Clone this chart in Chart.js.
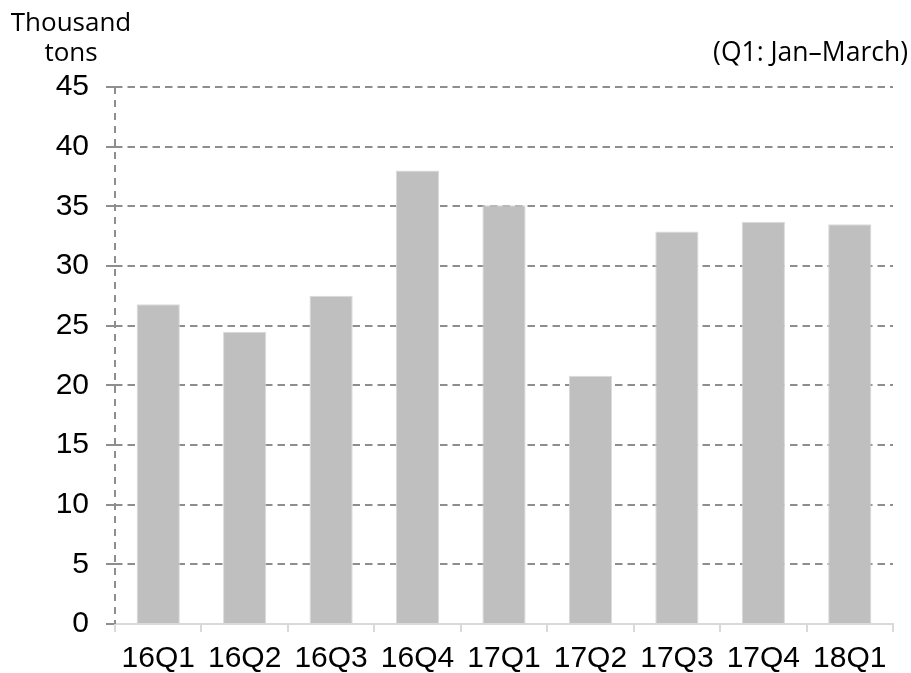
<!DOCTYPE html>
<html>
<head>
<meta charset="utf-8">
<script src="https://cdn.jsdelivr.net/npm/chart.js@4/dist/chart.umd.min.js"></script>
<style>
  html, body { margin: 0; padding: 0; background: #fff; }
  #wrap { width: 911px; height: 673px; }
</style>
</head>
<body>
<div id="wrap"><canvas id="chart" width="911" height="673"></canvas></div>
<script>
// --- données ---
const quarters = ['16Q1', '16Q2', '16Q3', '16Q4', '17Q1', '17Q2', '17Q3', '17Q4', '18Q1'];
const volumes = [26.8, 24.5, 27.5, 38.0, 35.1, 20.8, 32.9, 33.7, 33.5];
const unitLines = ['Thousand', 'tons'];
const noteText = '(Q1: Jan\u2013March)';

const gridGray = '#8e8e8e';
const axisGray = '#d9d9d9';
const dashPattern = [7.5, 5];
const tickFont = { family: '"Liberation Sans", Arial, sans-serif', size: 30 };

// axe vertical en pointillés + textes d'en-tête
const headerText = {
  id: 'headerText',
  beforeDatasetsDraw(chart) {
    const ctx = chart.ctx;
    const area = chart.chartArea;
    const x = Math.round(area.left);
    ctx.save();
    ctx.strokeStyle = gridGray;
    ctx.lineWidth = 2;
    ctx.setLineDash([7, 6]);
    ctx.beginPath();
    ctx.moveTo(x, area.top);
    ctx.lineTo(x, area.bottom);
    ctx.stroke();
    ctx.restore();
  },
  afterDraw(chart) {
    const ctx = chart.ctx;
    ctx.save();
    ctx.fillStyle = '#000';
    ctx.font = '26px "Open Sans"';
    ctx.textBaseline = 'alphabetic';
    ctx.textAlign = 'center';
    ctx.fillText(unitLines[0], 71, 31);
    ctx.fillText(unitLines[1], 71, 61);
    ctx.textAlign = 'right';
    ctx.font = '26.5px "Open Sans"';
    ctx.fillText(noteText, 908, 61);
    ctx.restore();
  }
};

new Chart(document.getElementById('chart'), {
  type: 'bar',
  data: {
    labels: quarters,
    datasets: [{
      data: volumes,
      backgroundColor: '#bfbfbf',
      borderColor: '#dadada',
      borderWidth: 1,
      barPercentage: 0.5,
      categoryPercentage: 1.0
    }]
  },
  options: {
    responsive: false,
    animation: false,
    layout: { padding: { top: 87, right: 18, left: 0, bottom: 0 } },
    plugins: { legend: { display: false }, tooltip: { enabled: false } },
    scales: {
      x: {
        afterFit: s => { s.height = 49; },
        grid: { drawOnChartArea: false, drawTicks: true, tickLength: 8, color: axisGray, lineWidth: 2 },
        border: { display: true, color: axisGray, width: 2 },
        ticks: { color: '#000', padding: 9, maxRotation: 0, font: tickFont }
      },
      y: {
        min: 0,
        max: 45,
        afterFit: s => { s.width = 115; },
        grid: {
          color: c => (c.tick && c.tick.value === 0) ? 'rgba(0,0,0,0)' : gridGray,
          tickColor: gridGray,
          lineWidth: 2,
          tickLength: 9
        },
        border: { display: false, dash: dashPattern },
        ticks: { stepSize: 5, color: '#000', padding: 17, font: tickFont }
      }
    }
  },
  plugins: [headerText]
});
</script>
</body>
</html>
